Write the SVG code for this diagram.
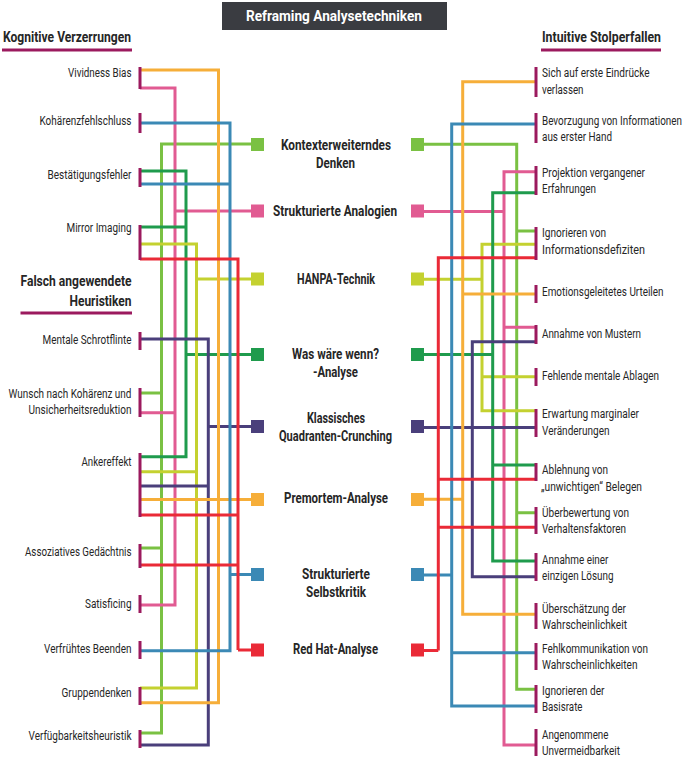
<svg xmlns="http://www.w3.org/2000/svg" width="685" height="758" viewBox="0 0 685 758">
<style>
text{font-family:Roboto,"Liberation Sans",sans-serif;fill:#262626}
.l{font-size:13px}
.c{font-size:14px;font-weight:bold}
.h{font-size:15px;font-weight:bold}
.t{font-size:15.5px;font-weight:bold;fill:#fff}
.bar{fill:#9b1a5e}
.cn path{fill:none;stroke-width:3;stroke-linejoin:miter}
.g1{stroke:#7ac143}.g1f{fill:#7ac143}
.pk{stroke:#e15b92}.pkf{fill:#e15b92}
.yg{stroke:#c4d130}.ygf{fill:#c4d130}
.dg{stroke:#1f9b4d}.dgf{fill:#1f9b4d}
.pu{stroke:#4a3f7b}.puf{fill:#4a3f7b}
.or{stroke:#f6ae39}.orf{fill:#f6ae39}
.bl{stroke:#3b89b5}.blf{fill:#3b89b5}
.rd{stroke:#ea2a37}.rdf{fill:#ea2a37}
</style>
<rect width="685" height="758" fill="#fff"/>
<g id="title">
<rect x="222" y="2" width="225" height="28" fill="#3a3c41"/>
<text class="t" transform="matrix(.8 0 0 1 246 0)" x="0" y="21" textLength="220" lengthAdjust="spacingAndGlyphs">Reframing Analysetechniken</text>
</g>
<g id="heading-left">
<text class="h" transform="matrix(.8 0 0 1 3 0)" x="0" y="42" textLength="160" lengthAdjust="spacingAndGlyphs">Kognitive Verzerrungen</text>
<rect class="bar" x="2" y="48.5" width="130" height="3"/>
</g>
<g id="heading-left2">
<text class="h" transform="matrix(.8 0 0 1 20.5 0)" x="0" y="286" textLength="138.75" lengthAdjust="spacingAndGlyphs">Falsch angewendete</text>
<text class="h" transform="matrix(.8 0 0 1 69.5 0)" x="0" y="306" textLength="77.5" lengthAdjust="spacingAndGlyphs">Heuristiken</text>
<rect class="bar" x="20.5" y="311.5" width="111.5" height="3"/>
</g>
<g id="heading-right">
<text class="h" transform="matrix(.8 0 0 1 542 0)" x="0" y="42" textLength="148.75" lengthAdjust="spacingAndGlyphs">Intuitive Stolperfallen</text>
<rect class="bar" x="541" y="48.5" width="120" height="3"/>
</g>

<g id="connectors" class="cn">
<path class="g1" d="M251,144 H161.5 V733 H140 M161.5,393 H140 M161.5,548 H140"/>
<path class="pk" d="M251,211 H175 M140,88 H175 V605 H140 M175,412.7 H140"/>
<path class="dg" d="M251,354.5 H186 M140,171 H186 V456.7 H140 M186,227 H140"/>
<path class="yg" d="M251,279 H196.5 M140,244 H196.5 V688 H140 M196.5,471.7 H140"/>
<path class="pu" d="M251,426.5 H208.3 M140,339 H208.3 V745 H140 M208.3,486 H140"/>
<path class="or" d="M140,499.5 H251 M140,70 H218.5 V702.7 H140"/>
<path class="bl" d="M251,574.5 H230 M140,123 H230 V650.7 H140 M230,184 H140"/>
<path class="rd" d="M251,650 H238 M140,259 H238 V650 M238,515 H140 M238,565 H140"/>
<path class="g1" d="M424,144.3 H516.7 V689.3 H535 M516.7,231 H535 M516.7,512.7 H535"/>
<path class="pk" d="M424,211.5 H504 M535,171.7 H504 V745 H535 M504,327.3 H535"/>
<path class="yg" d="M424,279.3 H482 M535,244.3 H482 V410.7 H535 M482,376.7 H535"/>
<path class="dg" d="M424,354.5 H492.7 M535,192.7 H492.7 V561 H535 M492.7,465 H535"/>
<path class="pu" d="M424,427.5 H535 M535,341.7 H472.3 V576.7 H535"/>
<path class="or" d="M424,499.3 H462.7 M535,81.7 H462.7 V614.3 H535 M462.7,294 H535"/>
<path class="bl" d="M424,575 H451.7 M535,124 H451.7 V706 H535 M451.7,652.7 H535"/>
<path class="rd" d="M424,650.5 H438.3 M535,257.7 H438.3 V650.5 M438.3,479.3 H535 M438.3,527.3 H535"/>
</g>

<g id="t-kontext">
<rect class="g1f" x="251" y="138" width="13" height="13"/><rect class="g1f" x="411" y="138" width="13" height="13"/>
<text class="c" transform="matrix(.8 0 0 1 281 0)" x="0" y="150" textLength="137.5" lengthAdjust="spacingAndGlyphs">Kontexterweiterndes</text>
<text class="c" transform="matrix(.8 0 0 1 316 0)" x="0" y="168" textLength="48.75" lengthAdjust="spacingAndGlyphs">Denken</text>
</g>
<g id="t-analogien">
<rect class="pkf" x="251" y="204.5" width="13" height="13"/><rect class="pkf" x="411" y="204.5" width="13" height="13"/>
<text class="c" transform="matrix(.8 0 0 1 273 0)" x="0" y="216" textLength="155" lengthAdjust="spacingAndGlyphs">Strukturierte Analogien</text>
</g>
<g id="t-hanpa">
<rect class="ygf" x="251" y="272.5" width="13" height="13"/><rect class="ygf" x="411" y="272.5" width="13" height="13"/>
<text class="c" transform="matrix(.8 0 0 1 297 0)" x="0" y="284" textLength="97.5" lengthAdjust="spacingAndGlyphs">HANPA-Technik</text>
</g>
<g id="t-waswaere">
<rect class="dgf" x="251" y="348" width="13" height="13"/><rect class="dgf" x="411" y="348" width="13" height="13"/>
<text class="c" transform="matrix(.8 0 0 1 292 0)" x="0" y="359" textLength="108.75" lengthAdjust="spacingAndGlyphs">Was wäre wenn?</text>
<text class="c" transform="matrix(.8 0 0 1 313 0)" x="0" y="377" textLength="56.25" lengthAdjust="spacingAndGlyphs">-Analyse</text>
</g>
<g id="t-quadranten">
<rect class="puf" x="251" y="420" width="13" height="13"/><rect class="puf" x="411" y="420" width="13" height="13"/>
<text class="c" transform="matrix(.8 0 0 1 307 0)" x="0" y="423" textLength="72.5" lengthAdjust="spacingAndGlyphs">Klassisches</text>
<text class="c" transform="matrix(.8 0 0 1 279 0)" x="0" y="441" textLength="141.25" lengthAdjust="spacingAndGlyphs">Quadranten-Crunching</text>
</g>
<g id="t-premortem">
<rect class="orf" x="251" y="493" width="13" height="13"/><rect class="orf" x="411" y="493" width="13" height="13"/>
<text class="c" transform="matrix(.8 0 0 1 284 0)" x="0" y="503.5" textLength="130" lengthAdjust="spacingAndGlyphs">Premortem-Analyse</text>
</g>
<g id="t-selbstkritik">
<rect class="blf" x="251" y="568" width="13" height="13"/><rect class="blf" x="411" y="568" width="13" height="13"/>
<text class="c" transform="matrix(.8 0 0 1 302 0)" x="0" y="579" textLength="85" lengthAdjust="spacingAndGlyphs">Strukturierte</text>
<text class="c" transform="matrix(.8 0 0 1 306 0)" x="0" y="597" textLength="75" lengthAdjust="spacingAndGlyphs">Selbstkritik</text>
</g>
<g id="t-redhat">
<rect class="rdf" x="251" y="643.5" width="13" height="13"/><rect class="rdf" x="411" y="643.5" width="13" height="13"/>
<text class="c" transform="matrix(.8 0 0 1 293 0)" x="0" y="654" textLength="106.25" lengthAdjust="spacingAndGlyphs">Red Hat-Analyse</text>
</g>

<g id="l-vividness"><rect class="bar" x="138.5" y="67" width="3" height="22"/><text class="l" transform="matrix(.8 0 0 1 68 0)" x="0" y="77" textLength="79.4" lengthAdjust="spacingAndGlyphs">Vividness Bias</text></g>
<g id="l-kohaerenz"><rect class="bar" x="138.5" y="113" width="3" height="20"/><text class="l" transform="matrix(.8 0 0 1 39.5 0)" x="0" y="125" textLength="115" lengthAdjust="spacingAndGlyphs">Kohärenzfehlschluss</text></g>
<g id="l-bestaetigung"><rect class="bar" x="138.5" y="168" width="3" height="19"/><text class="l" transform="matrix(.8 0 0 1 47.5 0)" x="0" y="179" textLength="105" lengthAdjust="spacingAndGlyphs">Bestätigungsfehler</text></g>
<g id="l-mirror"><rect class="bar" x="138.5" y="225" width="3" height="35"/><text class="l" transform="matrix(.8 0 0 1 66.5 0)" x="0" y="232.5" textLength="81.25" lengthAdjust="spacingAndGlyphs">Mirror Imaging</text></g>
<g id="l-schrotflinte"><rect class="bar" x="138.5" y="332" width="3" height="18"/><text class="l" transform="matrix(.8 0 0 1 42.5 0)" x="0" y="344" textLength="111.25" lengthAdjust="spacingAndGlyphs">Mentale Schrotflinte</text></g>
<g id="l-wunsch"><rect class="bar" x="138.5" y="388" width="3" height="29"/><text class="l" transform="matrix(.8 0 0 1 8.5 0)" x="0" y="398" textLength="153.75" lengthAdjust="spacingAndGlyphs">Wunsch nach Kohärenz und</text><text class="l" transform="matrix(.8 0 0 1 28.5 0)" x="0" y="414.5" textLength="128.75" lengthAdjust="spacingAndGlyphs">Unsicherheitsreduktion</text></g>
<g id="l-anker"><rect class="bar" x="138.5" y="453" width="3" height="64"/><text class="l" transform="matrix(.8 0 0 1 81.5 0)" x="0" y="466" textLength="62.5" lengthAdjust="spacingAndGlyphs">Ankereffekt</text></g>
<g id="l-assoziativ"><rect class="bar" x="138.5" y="544" width="3" height="24"/><text class="l" transform="matrix(.8 0 0 1 25 0)" x="0" y="556" textLength="133.1" lengthAdjust="spacingAndGlyphs">Assoziatives Gedächtnis</text></g>
<g id="l-satisficing"><rect class="bar" x="138.5" y="595" width="3" height="18"/><text class="l" transform="matrix(.8 0 0 1 85 0)" x="0" y="608" textLength="58.1" lengthAdjust="spacingAndGlyphs">Satisficing</text></g>
<g id="l-verfrueht"><rect class="bar" x="138.5" y="641" width="3" height="18"/><text class="l" transform="matrix(.8 0 0 1 44 0)" x="0" y="653.5" textLength="109.4" lengthAdjust="spacingAndGlyphs">Verfrühtes Beenden</text></g>
<g id="l-gruppen"><rect class="bar" x="138.5" y="687" width="3" height="18"/><text class="l" transform="matrix(.8 0 0 1 61.5 0)" x="0" y="697" textLength="87.5" lengthAdjust="spacingAndGlyphs">Gruppendenken</text></g>
<g id="l-verfuegbarkeit"><rect class="bar" x="138.5" y="730" width="3" height="18"/><text class="l" transform="matrix(.8 0 0 1 28.5 0)" x="0" y="740.5" textLength="128.75" lengthAdjust="spacingAndGlyphs">Verfügbarkeitsheuristik</text></g>

<g id="r-eindruecke"><rect class="bar" x="534.5" y="67" width="3" height="30"/><text class="l" transform="matrix(.8 0 0 1 542 0)" x="0" y="77.5" textLength="134.4" lengthAdjust="spacingAndGlyphs">Sich auf erste Eindrücke</text><text class="l" transform="matrix(.8 0 0 1 542 0)" x="0" y="94" textLength="51.9" lengthAdjust="spacingAndGlyphs">verlassen</text></g>
<g id="r-bevorzugung"><rect class="bar" x="534.5" y="113" width="3" height="30"/><text class="l" transform="matrix(.7 0 0 1 542 0)" x="0" y="125" textLength="200" lengthAdjust="spacingAndGlyphs">Bevorzugung von Informationen</text><text class="l" transform="matrix(.8 0 0 1 542 0)" x="0" y="141" textLength="87.5" lengthAdjust="spacingAndGlyphs">aus erster Hand</text></g>
<g id="r-projektion"><rect class="bar" x="534.5" y="166" width="3" height="29"/><text class="l" transform="matrix(.8 0 0 1 542 0)" x="0" y="177.5" textLength="128.75" lengthAdjust="spacingAndGlyphs">Projektion vergangener</text><text class="l" transform="matrix(.8 0 0 1 542 0)" x="0" y="193" textLength="67.5" lengthAdjust="spacingAndGlyphs">Erfahrungen</text></g>
<g id="r-ignorieren"><rect class="bar" x="534.5" y="227" width="3" height="33"/><text class="l" transform="matrix(.8 0 0 1 542 0)" x="0" y="237.5" textLength="80" lengthAdjust="spacingAndGlyphs">Ignorieren von</text><text class="l" transform="matrix(.8 0 0 1 542 0)" x="0" y="254" textLength="128.75" lengthAdjust="spacingAndGlyphs">Informationsdefiziten</text></g>
<g id="r-emotion"><rect class="bar" x="534.5" y="285" width="3" height="18"/><text class="l" transform="matrix(.8 0 0 1 542 0)" x="0" y="296" textLength="151.9" lengthAdjust="spacingAndGlyphs">Emotionsgeleitetes Urteilen</text></g>
<g id="r-muster"><rect class="bar" x="534.5" y="325" width="3" height="19"/><text class="l" transform="matrix(.8 0 0 1 542 0)" x="0" y="338.5" textLength="123.75" lengthAdjust="spacingAndGlyphs">Annahme von Mustern</text></g>
<g id="r-ablagen"><rect class="bar" x="534.5" y="368" width="3" height="18"/><text class="l" transform="matrix(.8 0 0 1 542 0)" x="0" y="380" textLength="146.25" lengthAdjust="spacingAndGlyphs">Fehlende mentale Ablagen</text></g>
<g id="r-erwartung"><rect class="bar" x="534.5" y="409" width="3" height="28"/><text class="l" transform="matrix(.8 0 0 1 542 0)" x="0" y="418.5" textLength="121.25" lengthAdjust="spacingAndGlyphs">Erwartung marginaler</text><text class="l" transform="matrix(.8 0 0 1 542 0)" x="0" y="435" textLength="84.4" lengthAdjust="spacingAndGlyphs">Veränderungen</text></g>
<g id="r-ablehnung"><rect class="bar" x="534.5" y="463" width="3" height="18"/><text class="l" transform="matrix(.8 0 0 1 542 0)" x="0" y="474.5" textLength="82.5" lengthAdjust="spacingAndGlyphs">Ablehnung von</text><text class="l" transform="matrix(.8 0 0 1 541 0)" x="0" y="491" textLength="126.25" lengthAdjust="spacingAndGlyphs">„unwichtigen“ Belegen</text></g>
<g id="r-ueberbewertung"><rect class="bar" x="534.5" y="507" width="3" height="27"/><text class="l" transform="matrix(.8 0 0 1 542 0)" x="0" y="517" textLength="108.75" lengthAdjust="spacingAndGlyphs">Überbewertung von</text><text class="l" transform="matrix(.8 0 0 1 542 0)" x="0" y="533.5" textLength="105" lengthAdjust="spacingAndGlyphs">Verhaltensfaktoren</text></g>
<g id="r-loesung"><rect class="bar" x="534.5" y="553" width="3" height="28"/><text class="l" transform="matrix(.8 0 0 1 542 0)" x="0" y="564" textLength="83.1" lengthAdjust="spacingAndGlyphs">Annahme einer</text><text class="l" transform="matrix(.8 0 0 1 542 0)" x="0" y="580.5" textLength="89.4" lengthAdjust="spacingAndGlyphs">einzigen Lösung</text></g>
<g id="r-ueberschaetzung"><rect class="bar" x="534.5" y="603" width="3" height="26"/><text class="l" transform="matrix(.8 0 0 1 542 0)" x="0" y="613" textLength="105" lengthAdjust="spacingAndGlyphs">Überschätzung der</text><text class="l" transform="matrix(.8 0 0 1 542 0)" x="0" y="629.5" textLength="106.25" lengthAdjust="spacingAndGlyphs">Wahrscheinlichkeit</text></g>
<g id="r-fehlkommunikation"><rect class="bar" x="534.5" y="643" width="3" height="27"/><text class="l" transform="matrix(.8 0 0 1 542 0)" x="0" y="653.5" textLength="132.5" lengthAdjust="spacingAndGlyphs">Fehlkommunikation von</text><text class="l" transform="matrix(.8 0 0 1 542 0)" x="0" y="669.5" textLength="119.4" lengthAdjust="spacingAndGlyphs">Wahrscheinlichkeiten</text></g>
<g id="r-basisrate"><rect class="bar" x="534.5" y="685" width="3" height="28"/><text class="l" transform="matrix(.8 0 0 1 542 0)" x="0" y="695" textLength="78.1" lengthAdjust="spacingAndGlyphs">Ignorieren der</text><text class="l" transform="matrix(.8 0 0 1 542 0)" x="0" y="711.5" textLength="50.6" lengthAdjust="spacingAndGlyphs">Basisrate</text></g>
<g id="r-unvermeidbarkeit"><rect class="bar" x="534.5" y="729" width="3" height="27"/><text class="l" transform="matrix(.8 0 0 1 542 0)" x="0" y="739" textLength="83.1" lengthAdjust="spacingAndGlyphs">Angenommene</text><text class="l" transform="matrix(.8 0 0 1 542 0)" x="0" y="755.5" textLength="97.5" lengthAdjust="spacingAndGlyphs">Unvermeidbarkeit</text></g>
</svg>
